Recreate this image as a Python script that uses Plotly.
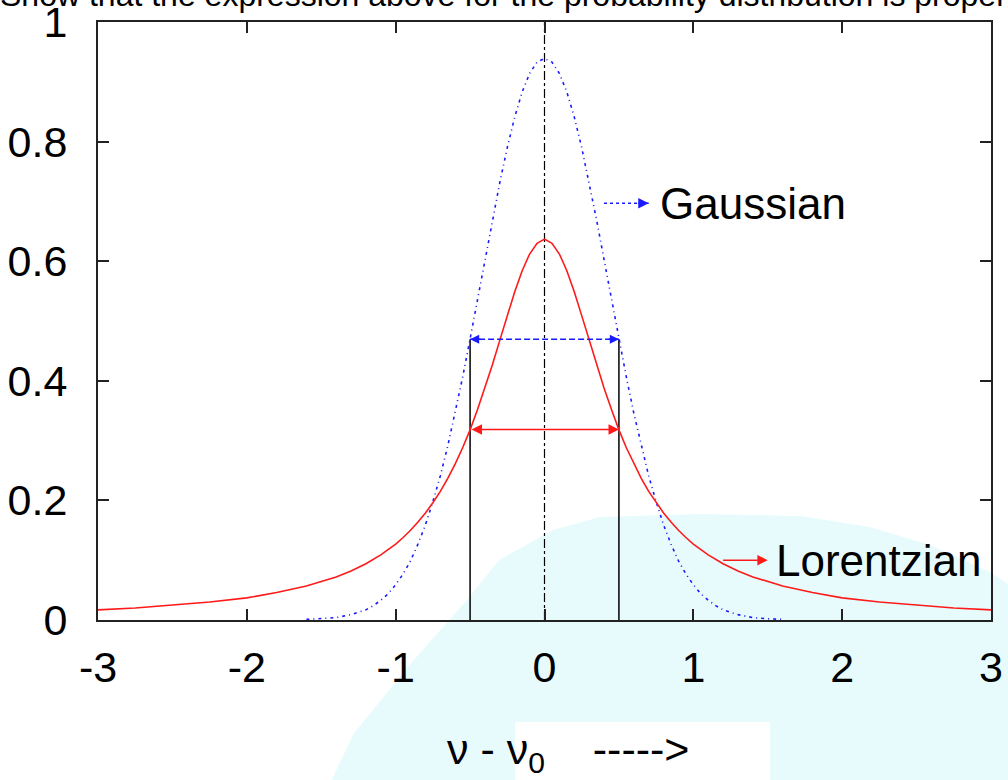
import plotly.graph_objects as go

# Lorentzian line shape (red), sampled across the full window
x_lor = [-3.0, -2.75, -2.5, -2.25, -2.0, -1.8, -1.6, -1.4, -1.3, -1.2, -1.1, -1.0,
         -0.95, -0.9, -0.85, -0.8, -0.75, -0.7, -0.65, -0.6, -0.55, -0.5, -0.45,
         -0.4, -0.35, -0.3, -0.25, -0.2, -0.15, -0.1, -0.05, 0.0,
         0.05, 0.1, 0.15, 0.2, 0.25, 0.3, 0.35, 0.4, 0.45, 0.5, 0.55, 0.6, 0.65,
         0.7, 0.75, 0.8, 0.85, 0.9, 0.95, 1.0, 1.1, 1.2, 1.3, 1.4, 1.6, 1.8, 2.0,
         2.25, 2.5, 2.75, 3.0]
y_lor = [0.017, 0.020, 0.025, 0.030, 0.037, 0.046, 0.057, 0.072, 0.082, 0.094, 0.109, 0.127,
         0.138, 0.150, 0.164, 0.179, 0.196, 0.215, 0.237, 0.261, 0.288, 0.318, 0.352,
         0.388, 0.427, 0.468, 0.509, 0.549, 0.584, 0.612, 0.630, 0.637,
         0.630, 0.612, 0.584, 0.549, 0.509, 0.468, 0.427, 0.388, 0.352, 0.318, 0.288, 0.261, 0.237,
         0.215, 0.196, 0.179, 0.164, 0.150, 0.138, 0.127, 0.109, 0.094, 0.082, 0.072, 0.057, 0.046, 0.037,
         0.030, 0.025, 0.020, 0.017]

# Gaussian line shape (blue), same FWHM
x_gau = [-1.6, -1.5, -1.4, -1.3, -1.2, -1.15, -1.1, -1.05, -1.0, -0.95, -0.9, -0.85,
         -0.8, -0.75, -0.7, -0.65, -0.6, -0.55, -0.5, -0.45, -0.4, -0.35, -0.3, -0.25,
         -0.2, -0.15, -0.1, -0.05, 0.0,
         0.05, 0.1, 0.15, 0.2, 0.25, 0.3, 0.35, 0.4, 0.45, 0.5, 0.55, 0.6, 0.65, 0.7,
         0.75, 0.8, 0.85, 0.9, 0.95, 1.0, 1.05, 1.1, 1.15, 1.2, 1.3, 1.4, 1.5, 1.6]
y_gau = [0.001, 0.002, 0.004, 0.009, 0.017, 0.024, 0.033, 0.044, 0.059, 0.077, 0.099, 0.127,
         0.159, 0.198, 0.241, 0.291, 0.346, 0.406, 0.470, 0.536, 0.603, 0.669, 0.732, 0.790,
         0.841, 0.883, 0.914, 0.933, 0.939,
         0.933, 0.914, 0.883, 0.841, 0.790, 0.732, 0.669, 0.603, 0.536, 0.470, 0.406, 0.346, 0.291, 0.241,
         0.198, 0.159, 0.127, 0.099, 0.077, 0.059, 0.044, 0.033, 0.024, 0.017, 0.009, 0.004, 0.002, 0.001]

x_ticks = [-3, -2, -1, 0, 1, 2, 3]
x_ticklabels = ["-3", "-2", "-1", "0", "1", "2", "3"]
y_ticks = [0, 0.2, 0.4, 0.6, 0.8, 1]
y_ticklabels = ["0", "0.2", "0.4", "0.6", "0.8", "1"]

half_width = 0.5                    # half width at half maximum for both profiles
gau_half = max(y_gau) / 2           # Gaussian half maximum
lor_half = max(y_lor) / 2           # Lorentzian half maximum

FONT = "Liberation Sans, Arial, Helvetica, sans-serif"
BLUE = "#1a1aff"
RED = "#ff1a1a"

# figure geometry (pixels)
W, H = 1008, 780
L, R, T, B = 98, 17, 22, 160
PW, PH = W - L - R, H - T - B


def px(xp):
    return (xp - L) / PW


def py(yp):
    return (H - B - yp) / PH


fig = go.Figure()

# centre line at nu = nu0
fig.add_trace(go.Scatter(x=[0, 0], y=[0, 1], mode="lines",
                         line=dict(color="black", width=1.2, dash="dashdot"),
                         hoverinfo="skip"))
# FWHM markers
for xv in (-half_width, half_width):
    fig.add_trace(go.Scatter(x=[xv, xv], y=[0, gau_half], mode="lines",
                             line=dict(color="black", width=1.5), hoverinfo="skip"))

fig.add_trace(go.Scatter(x=x_gau, y=y_gau, mode="lines", name="Gaussian",
                         line=dict(color=BLUE, width=1.6, dash="3px,4px,1px,4px")))
fig.add_trace(go.Scatter(x=x_lor, y=y_lor, mode="lines", name="Lorentzian",
                         line=dict(color=RED, width=1.6)))

# Gaussian FWHM bar (dashed)
fig.add_trace(go.Scatter(x=[-half_width, half_width], y=[gau_half, gau_half], mode="lines",
                         line=dict(color=BLUE, width=1.6, dash="6px,3px"), hoverinfo="skip"))

# key samples
g_key_x = [0.40, 0.70]
g_key_y = 0.697
l_key_x = [1.19, 1.50]
l_key_y = 0.100
fig.add_trace(go.Scatter(x=g_key_x, y=[g_key_y, g_key_y], mode="lines",
                         line=dict(color=BLUE, width=1.6, dash="3px,3px"), hoverinfo="skip"))

annotations = []
# Lorentzian FWHM double arrow
annotations.append(dict(x=half_width, y=lor_half, ax=-half_width, ay=lor_half,
                        xref="x", yref="y", axref="x", ayref="y", text="",
                        showarrow=True, arrowside="end+start", arrowhead=2,
                        arrowsize=1.3, arrowwidth=1.6, arrowcolor=RED))
# Gaussian FWHM arrow heads
for xa, xb in ((half_width, half_width - 0.08), (-half_width, -half_width + 0.08)):
    annotations.append(dict(x=xa, y=gau_half, ax=xb, ay=gau_half,
                            xref="x", yref="y", axref="x", ayref="y", text="",
                            showarrow=True, arrowhead=2, arrowsize=1.3,
                            arrowwidth=1.4, arrowcolor=BLUE))
# key arrow heads
annotations.append(dict(x=g_key_x[1], y=g_key_y, ax=g_key_x[1] - 0.08, ay=g_key_y,
                        xref="x", yref="y", axref="x", ayref="y", text="",
                        showarrow=True, arrowhead=2, arrowsize=1.3,
                        arrowwidth=1.6, arrowcolor=BLUE))
annotations.append(dict(x=l_key_x[1], y=l_key_y, ax=l_key_x[0], ay=l_key_y,
                        xref="x", yref="y", axref="x", ayref="y", text="",
                        showarrow=True, arrowhead=2, arrowsize=1.3,
                        arrowwidth=1.6, arrowcolor=RED))
# key texts
annotations.append(dict(x=0.76, y=g_key_y, xref="x", yref="y", text="Gaussian",
                        showarrow=False, xanchor="left", yanchor="middle",
                        font=dict(family=FONT, size=44, color="black")))
annotations.append(dict(x=1.54, y=l_key_y, xref="x", yref="y", text="Lorentzian",
                        showarrow=False, xanchor="left", yanchor="middle",
                        font=dict(family=FONT, size=44, color="black")))
# x-axis caption
annotations.append(dict(x=px(568), y=py(752), xref="paper", yref="paper",
                        text="\u03bd - \u03bd<sub>0</sub>\u00a0\u00a0\u00a0 ----->",
                        showarrow=False, xanchor="center", yanchor="middle",
                        font=dict(family=FONT, size=43, color="black")))
# line of page text above the plot
annotations.append(dict(x=px(-2), y=py(15), xref="paper", yref="paper",
                        text="Show that the expression above for the probability distribution is proper",
                        showarrow=False, xanchor="left", yanchor="bottom",
                        font=dict(family=FONT, size=32, color="black")))

# pale watermark behind the plot
dome = [(327, 790), (354, 733), (413, 661), (467, 600), (499, 560), (553, 530),
        (600, 517), (700, 514), (800, 516), (870, 527), (930, 545), (990, 572),
        (1010, 585), (1010, 790)]
path = "M " + " L ".join(f"{px(a):.4f},{py(b):.4f}" for a, b in dome) + " Z"
shapes = [
    dict(type="path", path=path, xref="paper", yref="paper", layer="below",
         fillcolor="#e7fbfd", line=dict(width=0)),
    dict(type="rect", x0=px(515), x1=px(770), y0=py(722), y1=py(790),
         xref="paper", yref="paper", layer="below", fillcolor="white", line=dict(width=0)),
]

axis_common = dict(showline=True, mirror="ticks", linecolor="#222", linewidth=2,
                   ticks="inside", ticklen=11, tickwidth=1.5, tickcolor="#222",
                   showgrid=False, zeroline=False, automargin=False,
                   ticklabeloverflow="allow",
                   tickfont=dict(family=FONT, size=43, color="black"))

fig.update_layout(
    width=W, height=H,
    margin=dict(l=L, r=R, t=T, b=B, autoexpand=False),
    paper_bgcolor="white", plot_bgcolor="rgba(0,0,0,0)",
    showlegend=False,
    xaxis=dict(range=[-3, 3], tickvals=x_ticks, ticktext=x_ticklabels,
               ticklabelstandoff=8, **axis_common),
    yaxis=dict(range=[0, 1], tickvals=y_ticks, ticktext=y_ticklabels,
               ticklabelstandoff=20, **axis_common),
    annotations=annotations,
    shapes=shapes,
)

fig.write_html("out.html")
